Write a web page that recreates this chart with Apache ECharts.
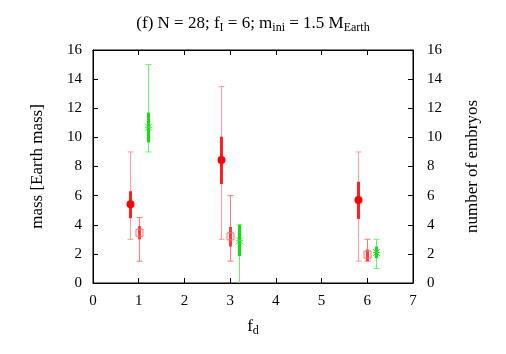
<!DOCTYPE html>
<html><head><meta charset="utf-8">
<script src="https://cdn.jsdelivr.net/npm/echarts@6/dist/echarts.min.js"></script>
<style>html,body{margin:0;padding:0;background:#fff}#c{width:506px;height:354px}</style>
</head><body><div id="c"></div>
<script>
// x positions
const xCircle = [0.8, 2.8, 5.8];
const xSquare = [1.0, 3.0, 6.0];
const xStar = [1.2, 3.2, 6.2];
// filled circles (mass)
const circleVal = [5.4, 8.45, 5.7];
const circleThickLo = [4.45, 6.8, 4.4];
const circleThickHi = [6.3, 10.05, 6.95];
const circleThinLo = [3.0, 3.0, 1.5];
const circleThinHi = [9.0, 13.5, 9.0];
// open squares (mass)
const squareVal = [3.45, 3.2, 1.95];
const squareThickLo = [3.0, 2.5, 1.5];
const squareThickHi = [3.9, 3.85, 2.3];
const squareThinLo = [1.5, 1.5, 1.5];
const squareThinHi = [4.5, 6.0, 3.0];
// stars (number of embryos)
const starVal = [10.7, 2.9, 2.1];
const starThickLo = [9.65, 1.85, 1.7];
const starThickHi = [11.7, 4.0, 2.5];
const starThinLo = [9.0, -0.5, 1.0];
const starThinHi = [15.0, 4.0, 3.0];
const xTicks = [0,1,2,3,4,5,6,7];
const yTicks = [0,2,4,6,8,10,12,14,16];

const FONT = '"Liberation Serif", "DejaVu Serif", serif';

function rows(xs, val, tlo, thi, lo, hi) {
  return xs.map((x, i) => [x, val[i], tlo[i], thi[i], lo[i], hi[i]]);
}

function makeRender(kind, thinColor, thickColor, markColor) {
  return function (params, api) {
    const x = api.value(0);
    const pV = api.coord([x, api.value(1)]);
    const pTL = api.coord([x, api.value(2)]);
    const pTH = api.coord([x, api.value(3)]);
    const pL = api.coord([x, api.value(4)]);
    const pH = api.coord([x, api.value(5)]);
    const cx = Math.round(pV[0]) + 0.5;
    const cap = 3;
    const children = [];
    const bottomY = api.coord([0, 0])[1];
    const lowY = Math.min(pL[1], bottomY);
    children.push({type: 'line', shape: {x1: cx, y1: pH[1], x2: cx, y2: lowY}, style: {stroke: thinColor, lineWidth: 1}});
    children.push({type: 'line', shape: {x1: cx - cap, y1: pH[1], x2: cx + cap, y2: pH[1]}, style: {stroke: thinColor, lineWidth: 1}});
    if (pL[1] <= bottomY) {
      children.push({type: 'line', shape: {x1: cx - cap, y1: pL[1], x2: cx + cap, y2: pL[1]}, style: {stroke: thinColor, lineWidth: 1}});
    }
    children.push({type: 'line', shape: {x1: cx, y1: pTH[1], x2: cx, y2: pTL[1]}, style: {stroke: thickColor, lineWidth: 3}});
    const cy = pV[1];
    if (kind === 'circle') {
      children.push({type: 'circle', shape: {cx: cx, cy: cy, r: 4}, style: {fill: markColor}});
    } else if (kind === 'square') {
      children.push({type: 'rect', shape: {x: cx - 3.5, y: cy - 3.5, width: 7, height: 7}, style: {fill: 'rgba(255,255,255,0)', stroke: markColor, lineWidth: 1}});
    } else {
      const s = 3.5;
      children.push({type: 'line', shape: {x1: cx - s, y1: cy - s, x2: cx + s, y2: cy + s}, style: {stroke: markColor, lineWidth: 1}});
      children.push({type: 'line', shape: {x1: cx - s, y1: cy + s, x2: cx + s, y2: cy - s}, style: {stroke: markColor, lineWidth: 1}});
      children.push({type: 'line', shape: {x1: cx - s, y1: cy, x2: cx + s, y2: cy}, style: {stroke: markColor, lineWidth: 1}});
    }
    return {type: 'group', children: children};
  };
}

const axisLabelStyle = {color: '#000', fontFamily: FONT, fontSize: 15};
const subRich = {s: {fontFamily: FONT, fontSize: 12, color: '#000', padding: [9, 0, 0, 0]}};
const tickStyle = {show: true, inside: true, length: 5, lineStyle: {color: '#000', width: 1}};
const lineStyle = {show: true, onZero: false, lineStyle: {color: '#000', width: 1}};
const chart = echarts.init(document.getElementById('c'), null, {renderer: 'canvas'});
chart.setOption({
  animation: false,
  backgroundColor: '#fff',
  title: {
    text: '(f) N = 28; f{s|I} = 6; m{s|ini} = 1.5 M{s|Earth}',
    left: 'center', top: 8,
    textStyle: {
      color: '#000', fontFamily: FONT, fontSize: 17, fontWeight: 'normal',
      rich: subRich
    }
  },
  grid: {left: 93, right: 93, top: 50, bottom: 71, show: true, borderColor: '#000', borderWidth: 1, backgroundColor: 'transparent'},
  xAxis: [{
    type: 'value', min: 0, max: 7, interval: 1, position: 'bottom',
    name: 'f{s|d}', nameLocation: 'middle', nameGap: 33,
    nameTextStyle: {color: '#000', fontFamily: FONT, fontSize: 17, rich: subRich},
    axisLine: lineStyle, axisTick: tickStyle,
    axisLabel: Object.assign({margin: 11}, axisLabelStyle),
    splitLine: {show: false}
  }, {
    type: 'value', min: 0, max: 7, interval: 1, position: 'top',
    axisLine: lineStyle, axisTick: tickStyle,
    axisLabel: {show: false}, splitLine: {show: false}
  }],
  yAxis: [{
    type: 'value', min: 0, max: 16, interval: 2, position: 'left',
    name: 'mass [Earth mass]', nameLocation: 'middle', nameGap: 47, nameRotate: 90,
    nameTextStyle: {color: '#000', fontFamily: FONT, fontSize: 17},
    axisLine: lineStyle, axisTick: tickStyle,
    axisLabel: Object.assign({margin: 11}, axisLabelStyle),
    splitLine: {show: false}
  }, {
    type: 'value', min: 0, max: 16, interval: 2, position: 'right',
    name: 'number of embryos', nameLocation: 'middle', nameGap: 51, nameRotate: 90,
    nameTextStyle: {color: '#000', fontFamily: FONT, fontSize: 17},
    axisLine: lineStyle, axisTick: tickStyle,
    axisLabel: Object.assign({margin: 14}, axisLabelStyle),
    splitLine: {show: false}
  }],
  series: [{
    type: 'custom', xAxisIndex: 0, yAxisIndex: 0, clip: true,
    renderItem: makeRender('circle', '#ff9c9c', '#ff2020', '#ff0000'),
    data: rows(xCircle, circleVal, circleThickLo, circleThickHi, circleThinLo, circleThinHi)
  }, {
    type: 'custom', xAxisIndex: 0, yAxisIndex: 0, clip: true,
    renderItem: makeRender('square', '#ff7a7a', '#ff3c3c', '#ff7070'),
    data: rows(xSquare, squareVal, squareThickLo, squareThickHi, squareThinLo, squareThinHi)
  }, {
    type: 'custom', xAxisIndex: 0, yAxisIndex: 1, clip: true,
    renderItem: makeRender('star', '#70f070', '#10e010', '#30e030'),
    data: rows(xStar, starVal, starThickLo, starThickHi, starThinLo, starThinHi)
  }]
});
</script></body></html>
